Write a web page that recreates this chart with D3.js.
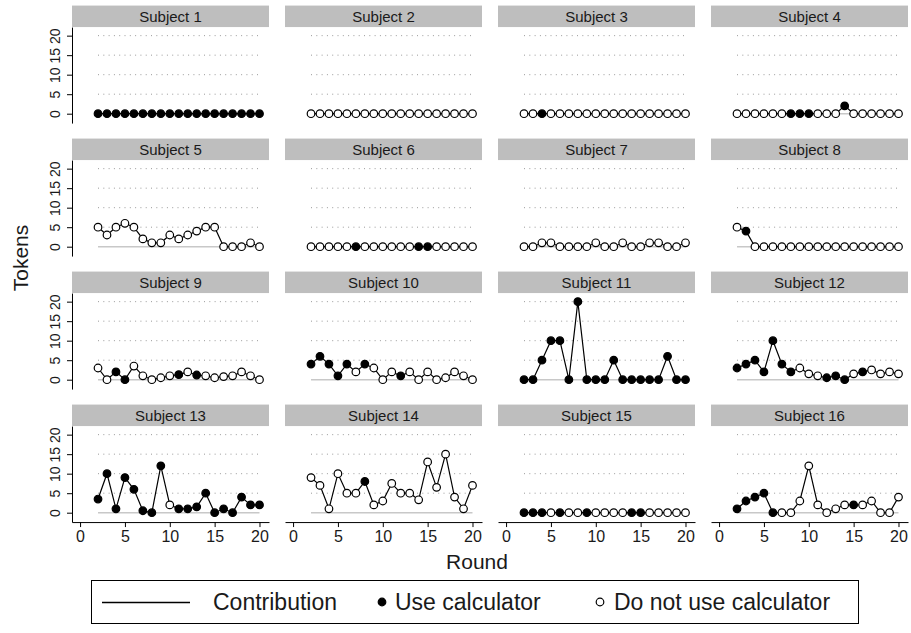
<!DOCTYPE html>
<html><head><meta charset="utf-8">
<script src="https://cdn.jsdelivr.net/npm/d3@7"></script>
<style>body{margin:0;background:#fff} svg{display:block;font-family:"Liberation Sans",Arial,Helvetica,sans-serif}</style>
</head><body><svg id="chart" width="911" height="633"></svg>
<script>
const rounds = [2,3,4,5,6,7,8,9,10,11,12,13,14,15,16,17,18,19,20];
const subjects = ["Subject 1","Subject 2","Subject 3","Subject 4","Subject 5","Subject 6","Subject 7","Subject 8",
  "Subject 9","Subject 10","Subject 11","Subject 12","Subject 13","Subject 14","Subject 15","Subject 16"];
const contributions = [
  [0,0,0,0,0,0,0,0,0,0,0,0,0,0,0,0,0,0,0],
  [0,0,0,0,0,0,0,0,0,0,0,0,0,0,0,0,0,0,0],
  [0,0,0,0,0,0,0,0,0,0,0,0,0,0,0,0,0,0,0],
  [0,0,0,0,0,0,0,0,0,0,0,0,2,0,0,0,0,0,0],
  [5,3,5,6,5,2,1,1,3,2,3,4,5,5,0,0,0,1,0],
  [0,0,0,0,0,0,0,0,0,0,0,0,0,0,0,0,0,0,0],
  [0,0,1,1,0,0,0,0,1,0,0,1,0,0,1,1,0,0,1],
  [5,4,0,0,0,0,0,0,0,0,0,0,0,0,0,0,0,0,0],
  [3,0,2,0,3.5,1,0,0.5,1,1.3,2,1.2,1,0.5,0.8,1,2,1,0],
  [4,6,4,1,4,2,4,3,0,2,1,2,0,2,0,0.5,2,1,0],
  [0,0,5,10,10,0,20,0,0,0,5,0,0,0,0,0,6,0,0],
  [3,4,5,2,10,4,2,3,1.5,1,0.5,1,0,1.5,2,2.5,1.5,2,1.5],
  [3.5,10,1,9,6,0.5,0,12,2,1,1,1.5,5,0,1,0,4,2,2],
  [9,7,1,10,5,5,8,2,3,7.5,5,5,3.3,13,6.5,15,4,1,7],
  [0,0,0,0,0,0,0,0,0,0,0,0,0,0,0,0,0,0,0],
  [1,3,4,5,0,0,0,3,12,2,0,1,2,2,2,3,0,0,4]
];
const calculator = [
  [1,1,1,1,1,1,1,1,1,1,1,1,1,1,1,1,1,1,1],
  [0,0,0,0,0,0,0,0,0,0,0,0,0,0,0,0,0,0,0],
  [0,0,1,0,0,0,0,0,0,0,0,0,0,0,0,0,0,0,0],
  [0,0,0,0,0,0,1,1,1,0,0,0,1,0,0,0,0,0,0],
  [0,0,0,0,0,0,0,0,0,0,0,0,0,0,0,0,0,0,0],
  [0,0,0,0,0,1,0,0,0,0,0,0,1,1,0,0,0,0,0],
  [0,0,0,0,0,0,0,0,0,0,0,0,0,0,0,0,0,0,0],
  [0,1,0,0,0,0,0,0,0,0,0,0,0,0,0,0,0,0,0],
  [0,0,1,1,0,0,0,0,0,1,0,1,0,0,0,0,0,0,0],
  [1,1,1,1,1,0,1,0,0,0,1,0,0,0,0,0,0,0,0],
  [1,1,1,1,1,1,1,1,1,1,1,1,1,1,1,1,1,1,1],
  [1,1,1,1,1,1,1,0,0,0,1,1,1,0,1,0,0,0,0],
  [1,1,1,1,1,1,1,1,0,1,1,1,1,1,1,1,1,1,1],
  [0,0,0,0,0,0,1,0,0,0,0,0,0,0,0,0,0,0,0],
  [1,1,1,0,1,0,0,1,0,0,0,0,1,1,0,0,0,0,0],
  [1,1,1,1,1,0,0,0,0,0,0,0,0,1,0,0,0,0,0]
];
const xTicks = [0,5,10,15,20];
const yTicks = [0,5,10,15,20];
const gridValues = [5,10,15,20];
const legendLabels = ["Contribution","Use calculator","Do not use calculator"];

const svg = d3.select("#chart");
svg.append("rect").attr("width",911).attr("height",633).attr("fill","#fff");

const panelW = 197, plotH = 96, stripH = 21.5;
const colLeft = c => 72 + c*213;
const x = d3.scaleLinear().domain([-0.9,21.06]).range([0,panelW]);
const y = d3.scaleLinear().domain([-2.4,22.2]).range([plotH,0]);
const plotTop = r => 113.7 + r*133 - y(0);

const line = d3.line().x((d,i)=>x(rounds[i])).y(d=>y(d));

subjects.forEach((name,i)=>{
  const r = Math.floor(i/4), c = i%4;
  const g = svg.append("g").attr("transform",`translate(${colLeft(c)},${plotTop(r)})`);
  g.append("rect").attr("x",0).attr("y",-stripH).attr("width",panelW).attr("height",stripH).attr("fill","#bebebe");
  g.append("text").attr("x",panelW/2).attr("y",-stripH/2).attr("dy","0.36em")
    .attr("text-anchor","middle").attr("font-size",15).attr("fill","#1a1a1a").text(name);
  gridValues.forEach(v=>{
    g.append("line").attr("x1",x(rounds[0])).attr("x2",x(rounds[rounds.length-1]))
      .attr("y1",y(v)).attr("y2",y(v)).attr("stroke","#9a9a9a").attr("stroke-width",1)
      .attr("stroke-dasharray","1,4.3");
  });
  g.append("line").attr("x1",x(rounds[0])).attr("x2",x(rounds[rounds.length-1]))
    .attr("y1",y(0)).attr("y2",y(0)).attr("stroke","#c8c8c8").attr("stroke-width",1.6);
  g.append("path").attr("d",line(contributions[i])).attr("fill","none").attr("stroke","#000").attr("stroke-width",1.2);
  g.selectAll("circle.pt").data(contributions[i]).join("circle").attr("class","pt")
    .attr("cx",(d,j)=>x(rounds[j])).attr("cy",d=>y(d)).attr("r",3.8)
    .attr("fill",(d,j)=>calculator[i][j]?"#000":"#fff").attr("stroke","#000").attr("stroke-width",1.2);
  if(c===0){
    const ya = g.append("g").call(d3.axisLeft(y).tickValues(yTicks).tickSize(5).tickSizeOuter(0));
    ya.select(".domain").attr("stroke","#000");
    ya.selectAll(".tick line").attr("stroke","#000");
    ya.selectAll(".tick text").attr("transform","rotate(-90)").attr("x",0).attr("y",-12).attr("dy",0)
      .attr("text-anchor","middle").attr("font-size",14).attr("fill","#1a1a1a").attr("font-family",null);
  }
  if(r===3){
    const xa = g.append("g").attr("transform",`translate(0,${plotH})`)
      .call(d3.axisBottom(x).tickValues(xTicks).tickSize(5).tickSizeOuter(0).tickPadding(4));
    xa.select(".domain").attr("stroke","#000");
    xa.selectAll(".tick line").attr("stroke","#000");
    xa.selectAll(".tick text").attr("font-size",16).attr("fill","#1a1a1a").attr("font-family",null);
  }
});

svg.append("text").attr("transform","translate(28,258) rotate(-90)").attr("text-anchor","middle")
  .attr("font-size",21).attr("fill","#1a1a1a").text("Tokens");
svg.append("text").attr("x",477).attr("y",569).attr("text-anchor","middle")
  .attr("font-size",21).attr("fill","#1a1a1a").text("Round");

// legend
const lg = svg.append("g");
lg.append("rect").attr("x",91.5).attr("y",580.5).attr("width",767).attr("height",43)
  .attr("fill","#fff").attr("stroke","#000").attr("stroke-width",1);
const ly = 602;
lg.append("line").attr("x1",102).attr("x2",190).attr("y1",ly+0.5).attr("y2",ly+0.5).attr("stroke","#000").attr("stroke-width",1.3);
lg.append("text").attr("x",213).attr("y",ly).attr("dy","0.36em").attr("font-size",23).attr("fill","#1a1a1a").text(legendLabels[0]);
lg.append("circle").attr("cx",382).attr("cy",ly).attr("r",3.8).attr("fill","#000").attr("stroke","#000").attr("stroke-width",1.2);
lg.append("text").attr("x",395).attr("y",ly).attr("dy","0.36em").attr("font-size",23).attr("fill","#1a1a1a").text(legendLabels[1]);
lg.append("circle").attr("cx",600).attr("cy",ly).attr("r",3.8).attr("fill","#fff").attr("stroke","#000").attr("stroke-width",1.2);
lg.append("text").attr("x",614).attr("y",ly).attr("dy","0.36em").attr("font-size",23).attr("fill","#1a1a1a").text(legendLabels[2]);
</script></body></html>
